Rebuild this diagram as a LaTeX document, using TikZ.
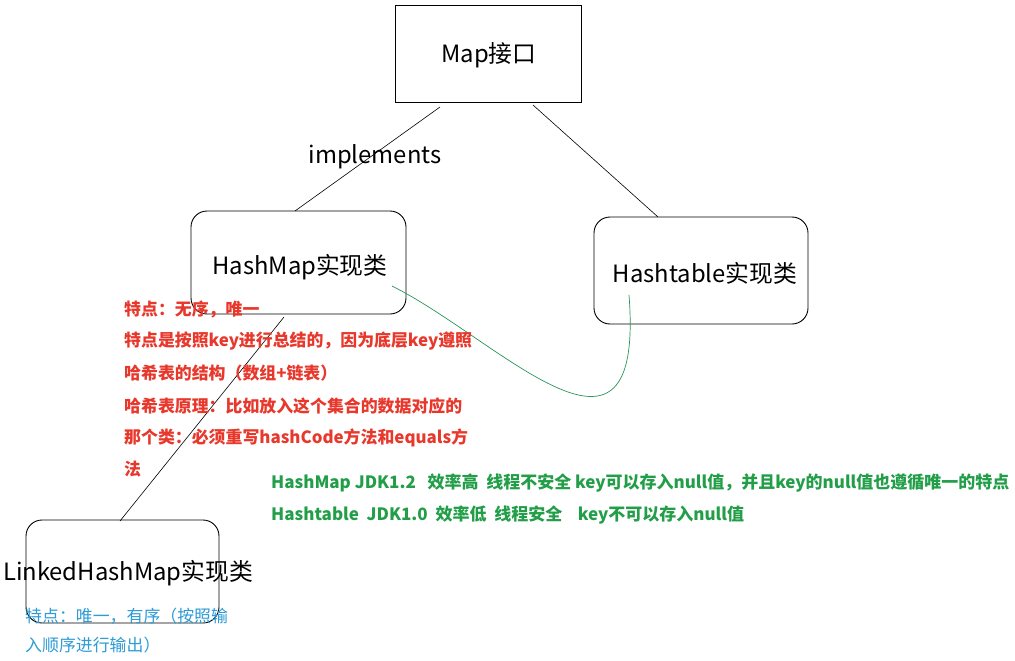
\documentclass[tikz,border=0pt]{standalone}
\usepackage{fontspec}
\setmainfont{Noto Sans CJK SC}
\begin{document}
\begin{tikzpicture}[x=1pt,y=-1pt,
  box/.style={draw=black,line width=0.9pt,inner sep=0pt},
  ttl/.style={font=\fontsize{23.8}{28}\selectfont,text=black,inner sep=0pt},
  redt/.style={font=\fontsize{16.9}{20}\selectfont\bfseries,text=redc,anchor=west,inner sep=0pt},
  greent/.style={font=\fontsize{17}{20}\selectfont\bfseries,text=greenc,anchor=west,inner sep=0pt},
  bluet/.style={font=\fontsize{16.9}{20}\selectfont,text=bluec,anchor=west,inner sep=0pt},
  conn/.style={draw=black,line width=0.6pt}]
\definecolor{redc}{RGB}{232,56,44}
\definecolor{greenc}{RGB}{34,158,72}
\definecolor{bluec}{RGB}{46,155,214}
\definecolor{curvec}{RGB}{40,150,90}
\useasboundingbox[fill=white] (0,0) rectangle (1015,661);
% boxes
\draw[box] (395,5) rectangle (581,102);
\draw[box,rounded corners=16pt] (191,211) rectangle (406,314);
\draw[box,rounded corners=16pt] (594,217) rectangle (808,324);
\draw[box,rounded corners=16pt] (26,520) rectangle (219,623);
% titles
\node[ttl] (map) at (489,55) {Map接口};
\node[ttl] (hm) at (300,267) {HashMap实现类};
\node[ttl] (ht) at (705,273) {Hashtable实现类};
\node[ttl] (lhm) at (128,573) {LinkedHashMap实现类};
\node[ttl] (impl) at (375,157) {implements};
% connectors
\coordinate (a1) at (440,107); \coordinate (a2) at (295,211);
\coordinate (b1) at (533,105); \coordinate (b2) at (658,217);
\coordinate (c1) at (284,317); \coordinate (c2) at (120,521);
\coordinate (g1) at (392,286); \coordinate (g2) at (629,295);
\draw[conn] (a1) -- (a2);
\draw[conn] (b1) -- (b2);
\draw[conn] (c1) -- (c2);
\draw[draw=curvec,line width=0.7pt] (g1) .. controls (500,340) and (645,500) .. (g2);
% red notes
\node[redt] (r1) at (124,309) {特点：无序，唯一};
\node[redt] (r2) at (124,341) {特点是按照key进行总结的，因为底层key遵照};
\node[redt] (r3) at (124,373) {哈希表的结构（数组+链表）};
\node[redt] (r4) at (124,406) {哈希表原理：比如放入这个集合的数据对应的};
\node[redt] (r5) at (124,438) {那个类：必须重写hashCode方法和equals方};
\node[redt] (r6) at (124,469) {法};
% green notes
\node[greent] (g1t) at (271,483) {HashMap JDK1.2\ \ \ 效率高\ \ 线程不安全 key可以存入null值，并且key的null值也遵循唯一的特点};
\node[greent] (g2t) at (271,515) {Hashtable\ \ JDK1.0\ \ 效率低\ \ 线程安全\ \ \ \ key不可以存入null值};
% blue notes
\node[bluet] (b1t) at (25,616) {特点：唯一，有序（按照输};
\node[bluet] (b2t) at (25,645) {入顺序进行输出）};
\end{tikzpicture}
\end{document}
